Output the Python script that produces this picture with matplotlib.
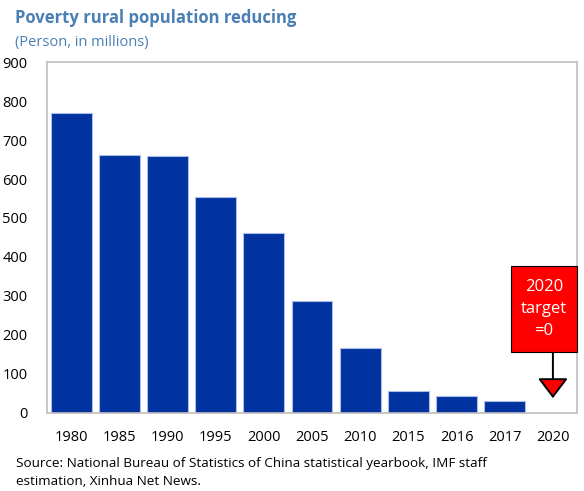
import matplotlib.pyplot as plt
from matplotlib.patches import Rectangle

plt.rcParams['font.family'] = ['Open Sans', 'DejaVu Sans']

# data (millions of persons)
years = ['1980', '1985', '1990', '1995', '2000', '2005', '2010',
         '2015', '2016', '2017', '2020']
poor = [770.4, 661.1, 658.5, 554.6, 462.2, 286.6, 165.7, 55.8, 43.4, 30.5, 0]
yticks = [0, 100, 200, 300, 400, 500, 600, 700, 800, 900]

fig = plt.figure(figsize=(5.84, 4.91), dpi=100)
ax = fig.add_axes([0.0805, 0.1589, 0.9075, 0.7148])

x = range(len(years))
ax.bar(x, poor, width=0.85, color='#0033a0', edgecolor='#a9bde6', linewidth=0.8)
ax.set_xlim(-0.5, len(years) - 0.5)
ax.set_ylim(0, 900)
ax.set_xticks(list(x))
ax.set_xticklabels(years, fontsize=10.5)
ax.set_yticks(yticks)
ax.set_yticklabels([str(v) for v in yticks], fontsize=10.5)
ax.tick_params(length=0, pad=12)
ax.tick_params(axis='y', pad=14)
for s in ax.spines.values():
    s.set_color('#bfbfbf')
    s.set_linewidth(1.2)

# 2020 target box + arrow
ax.annotate('', xy=(10, 38), xytext=(10, 157),
            arrowprops=dict(arrowstyle='-|>,head_width=0.95,head_length=1.25',
                            facecolor='red', edgecolor='black', lw=1.4,
                            shrinkA=0, shrinkB=0))
ax.add_patch(Rectangle((9.13, 157), 1.37, 221, facecolor='red',
                       edgecolor='black', linewidth=0.8, clip_on=False, zorder=3))
ax.text(9.815, 267, '2020\ntarget\n=0', color='white', fontsize=12,
        ha='center', va='center', linespacing=1.5, zorder=4)

fig.text(0.026, 0.963, 'Poverty rural population reducing', fontsize=12,
         fontweight='bold', color='#4a7fb5', va='center')
fig.text(0.026, 0.914, '(Person, in millions)', fontsize=10.5,
         color='#4a7fb5', va='center')
fig.text(0.028, 0.038, 'Source: National Bureau of Statistics of China statistical yearbook, IMF staff\nestimation, Xinhua Net News.',
         fontsize=9.7, va='center', linespacing=1.45)

fig.savefig('out.png', dpi=100)
